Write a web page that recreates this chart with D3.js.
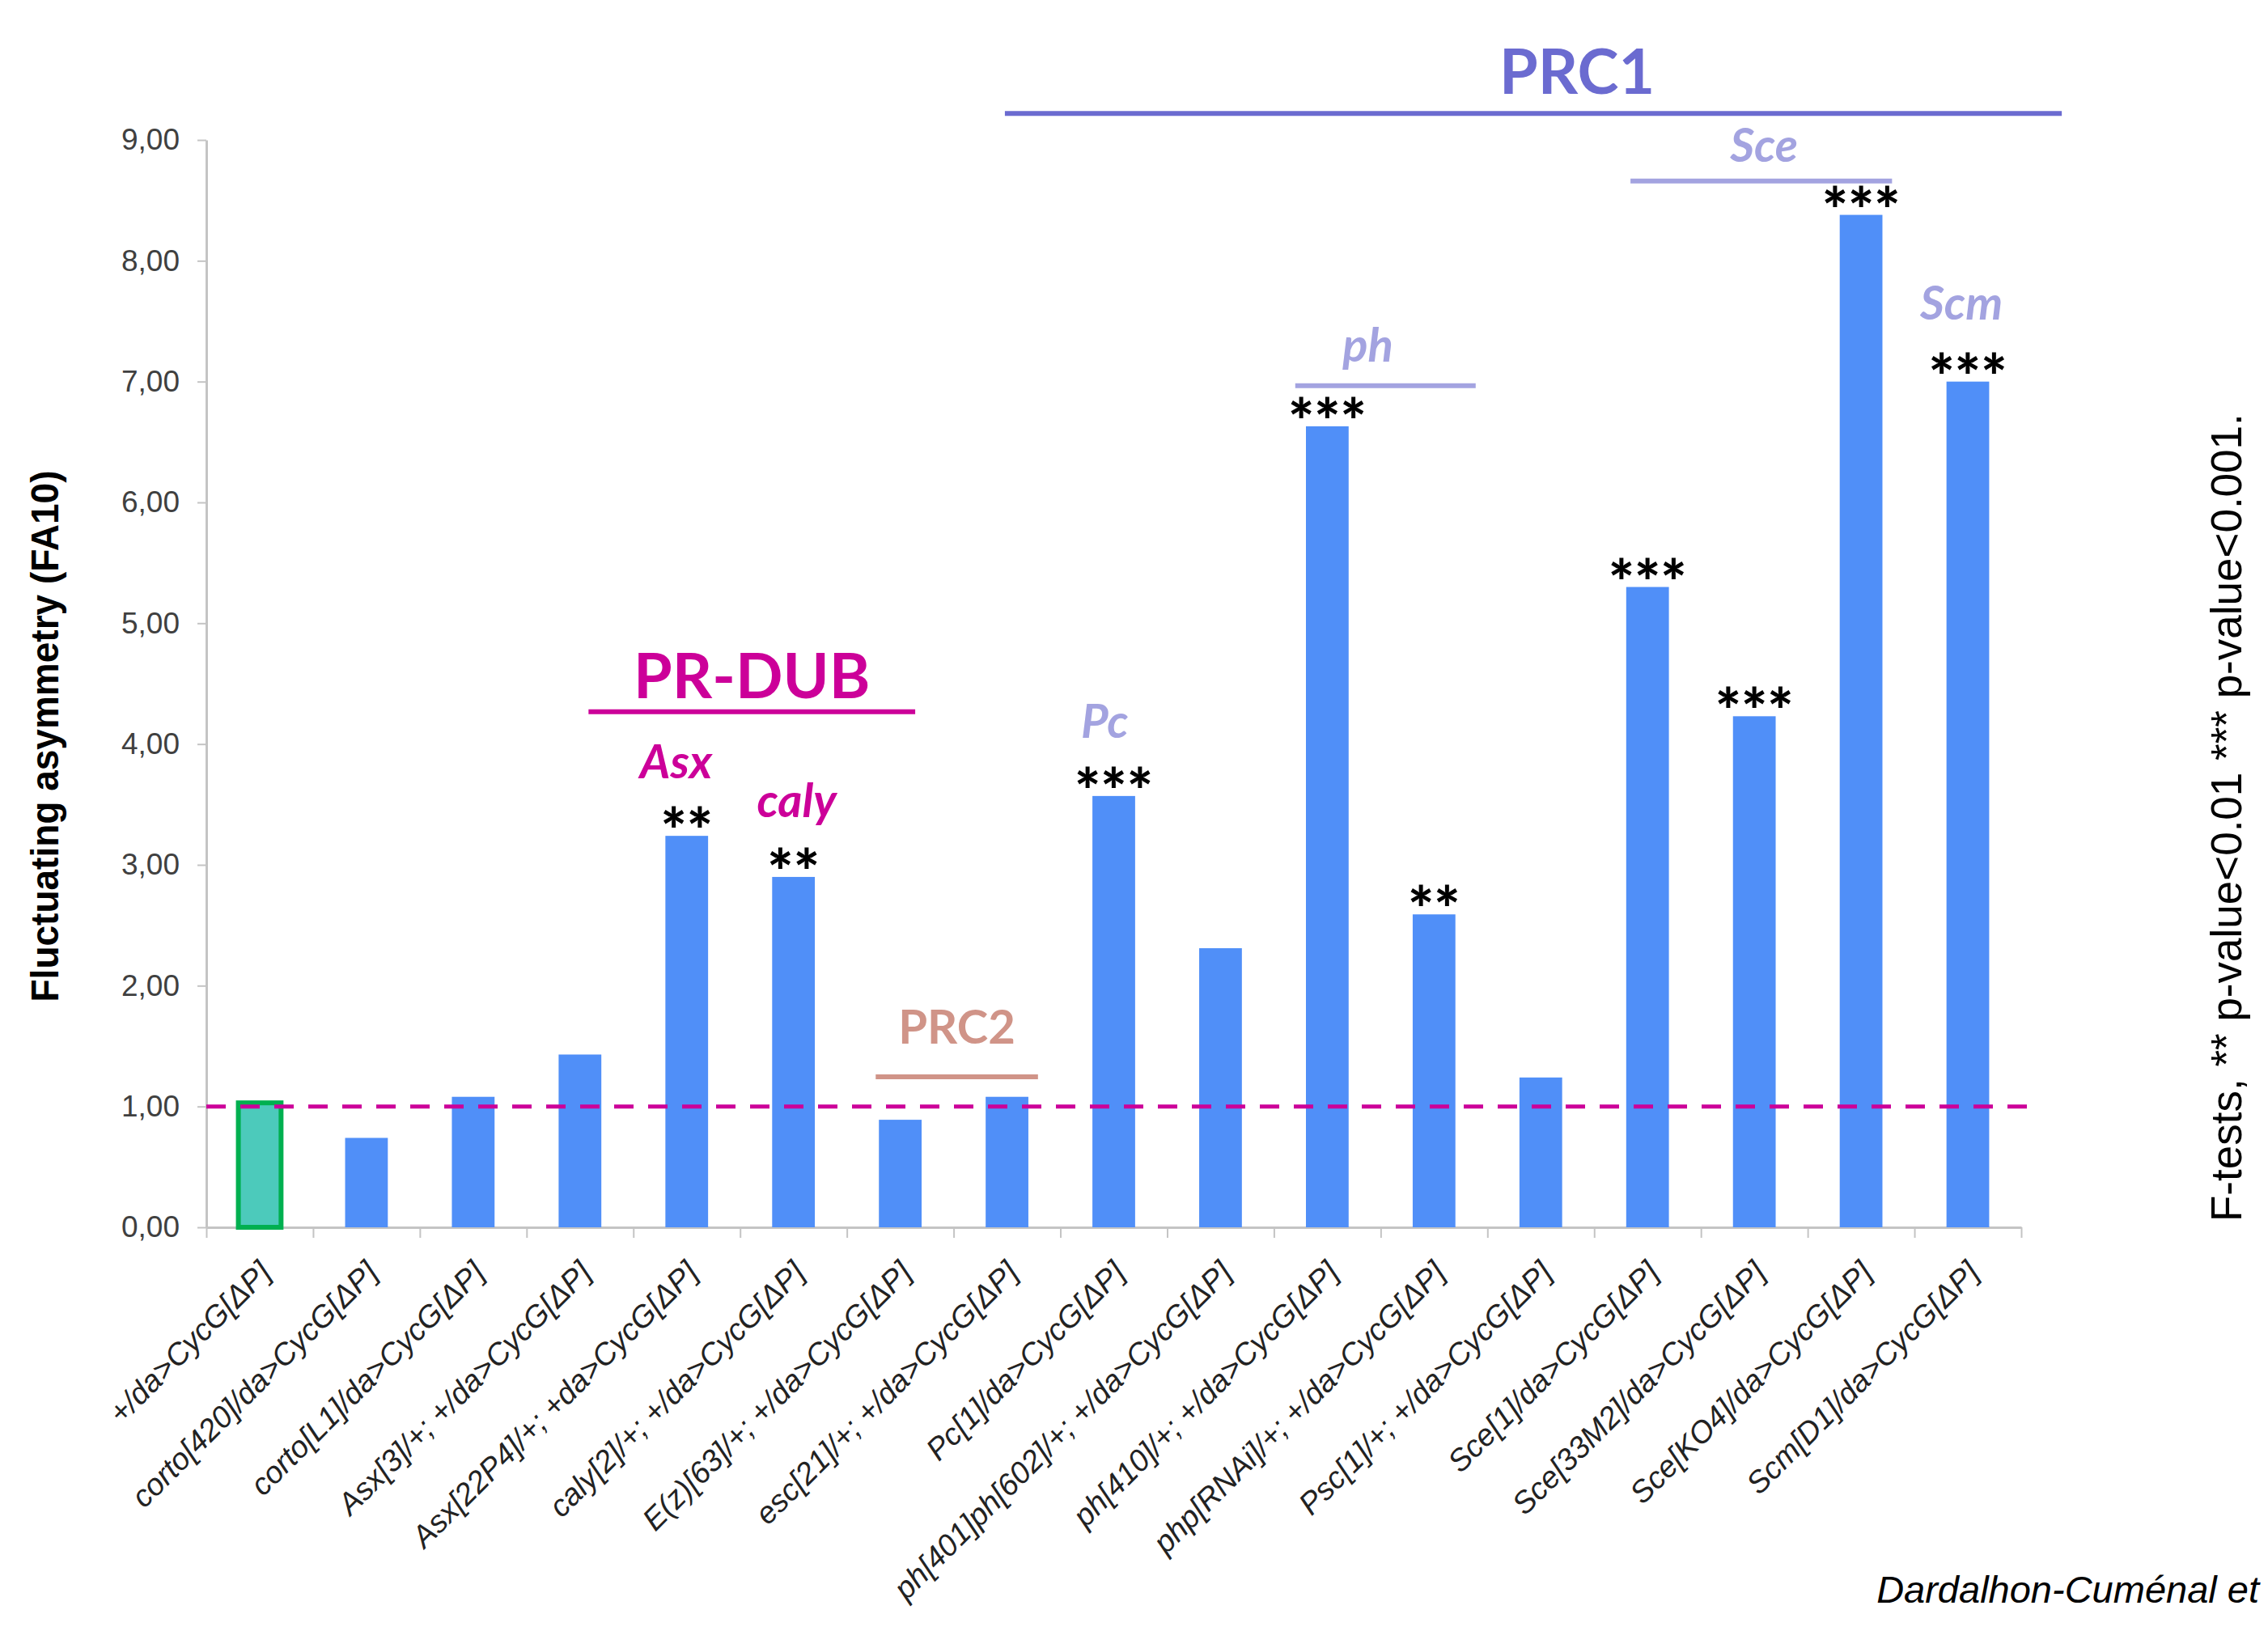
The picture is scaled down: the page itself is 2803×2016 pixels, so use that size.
<!DOCTYPE html>
<html><head><meta charset="utf-8">
<script src="https://cdn.jsdelivr.net/npm/d3@7"></script>
<style>body{margin:0;background:#fff}svg{display:block}</style>
</head><body>
<script>
// ---------- data ----------
const categories = [
  "+/da>CycG[ΔP]",
  "corto[420]/da>CycG[ΔP]",
  "corto[L1]/da>CycG[ΔP]",
  "Asx[3]/+; +/da>CycG[ΔP]",
  "Asx[22P4]/+; +da>CycG[ΔP]",
  "caly[2]/+; +/da>CycG[ΔP]",
  "E(z)[63]/+; +/da>CycG[ΔP]",
  "esc[21]/+; +/da>CycG[ΔP]",
  "Pc[1]/da>CycG[ΔP]",
  "ph[401]ph[602]/+; +/da>CycG[ΔP]",
  "ph[410]/+; +/da>CycG[ΔP]",
  "php[RNAi]/+; +/da>CycG[ΔP]",
  "Psc[1]/+; +/da>CycG[ΔP]",
  "Sce[1]/da>CycG[ΔP]",
  "Sce[33M2]/da>CycG[ΔP]",
  "Sce[KO4]/da>CycG[ΔP]",
  "Scm[D1]/da>CycG[ΔP]"
];
const values = [1.03, 0.74, 1.08, 1.43, 3.24, 2.90, 0.89, 1.08, 3.57, 2.31, 6.63, 2.59, 1.24, 5.30, 4.23, 8.38, 7.00];
const significance = ["", "", "", "", "**", "**", "", "", "***", "", "***", "**", "", "***", "***", "***", "***"];
const yTicks = [0, 1, 2, 3, 4, 5, 6, 7, 8, 9];
const referenceLevel = 1;
const yTitle = "Fluctuating asymmetry (FA10)";
const noteText = "F-tests, ** p-value<0.01 *** p-value<0.001.";
const creditText = "Dardalhon-Cuménal et";
// complex / gene annotation texts
const groupLabels = ["PRC1", "PR-DUB", "PRC2"];
const geneLabels = ["Sce", "Scm", "ph", "Pc", "Asx", "caly"];

// ---------- layout ----------
const W = 2803, H = 2016;
const X0 = 255, X1 = 2498, Y0 = 1517, Y9 = 173;

const svg = d3.select("body").append("svg").attr("width", W).attr("height", H);

const x = d3.scaleBand().domain(categories).range([X0, X1]).paddingInner(0.6).paddingOuter(0.3);
const xi = d3.scaleLinear().domain([0, categories.length]).range([X0, X1]); // category-index units
const y = d3.scaleLinear().domain([0, 9]).range([Y0, Y9]);

// y axis
const yAxis = svg.append("g").attr("transform", `translate(${X0},0)`)
  .call(d3.axisLeft(y).tickValues(yTicks).tickSize(11).tickSizeOuter(0).tickPadding(22)
    .tickFormat(d => d3.format(".2f")(d).replace(".", ",")));
yAxis.select(".domain").attr("stroke", "#c4c4c4").attr("stroke-width", 3);
yAxis.selectAll(".tick line").attr("stroke", "#c4c4c4").attr("stroke-width", 2);
yAxis.selectAll(".tick text").attr("font-family", "Liberation Sans, Arial, sans-serif")
  .attr("font-size", 37).attr("fill", "#404040");

// x axis
const xAxis = svg.append("g").attr("transform", `translate(0,${Y0})`)
  .call(d3.axisBottom(xi).tickValues(d3.range(categories.length + 1)).tickSize(13).tickSizeOuter(0).tickFormat(""));
xAxis.select(".domain").attr("stroke", "#c4c4c4").attr("stroke-width", 3);
xAxis.selectAll(".tick line").attr("stroke", "#c4c4c4").attr("stroke-width", 2);

// bars
svg.append("g").selectAll("rect").data(categories).join("rect")
  .attr("x", d => x(d))
  .attr("width", x.bandwidth())
  .attr("y", (d, i) => y(values[i]))
  .attr("height", (d, i) => Y0 - y(values[i]))
  .attr("fill", (d, i) => i === 0 ? "#4ccabb" : "#508ff8")
  .attr("stroke", (d, i) => i === 0 ? "#00b050" : "none")
  .attr("stroke-width", 6);

// reference dashed line
svg.append("line")
  .attr("x1", X0).attr("x2", 2522)
  .attr("y1", y(referenceLevel)).attr("y2", y(referenceLevel))
  .attr("stroke", "#cc0099").attr("stroke-width", 5).attr("stroke-dasharray", "24 18");

// x labels
svg.append("g").selectAll("text").data(categories).join("text")
  .attr("transform", d => `translate(${x(d) + x.bandwidth() / 2 + 16},${Y0 + 58}) rotate(-45)`)
  .attr("text-anchor", "end")
  .attr("font-family", "Liberation Sans, Arial, sans-serif")
  .attr("font-style", "italic")
  .attr("font-size", 38)
  .attr("fill", "#222")
  .text(d => d);

// significance stars
svg.append("g").selectAll("text").data(categories).join("text")
  .attr("x", d => x(d) + x.bandwidth() / 2)
  .attr("y", (d, i) => y(values[i]) + 22)
  .attr("text-anchor", "middle")
  .attr("font-family", "Lato, sans-serif")
  .attr("font-weight", 900)
  .attr("font-size", 76)
  .attr("fill", "#000")
  .text((d, i) => significance[i]);

// annotations (in category-index / value units)
const brackets = [
  {x1: 7.48, x2: 17.38, v: 9.22, color: "#6b6bd0"},
  {x1: 13.34, x2: 15.79, v: 8.66, color: "#a3a3e0"},
  {x1: 10.20, x2: 11.89, v: 6.966, color: "#a3a3e0"},
  {x1: 3.58, x2: 6.64, v: 4.267, color: "#cc0099"},
  {x1: 6.27, x2: 7.79, v: 1.246, color: "#d09488"}
];
svg.append("g").selectAll("line").data(brackets).join("line")
  .attr("x1", d => xi(d.x1)).attr("x2", d => xi(d.x2))
  .attr("y1", d => y(d.v)).attr("y2", d => y(d.v))
  .attr("stroke", d => d.color).attr("stroke-width", 6);

const groupPos = [
  {cx: 12.84, v: 9.38, size: 77, color: "#6b6bd0"},
  {cx: 5.11, v: 4.38, size: 77, color: "#cc0099"},
  {cx: 7.03, v: 1.52, size: 58, color: "#d09488"}
];
svg.append("g").selectAll("text").data(groupLabels).join("text")
  .attr("x", (d, i) => xi(groupPos[i].cx))
  .attr("y", (d, i) => y(groupPos[i].v))
  .attr("text-anchor", "middle")
  .attr("font-family", "Lato, sans-serif").attr("font-weight", 700)
  .attr("font-size", (d, i) => groupPos[i].size)
  .attr("fill", (d, i) => groupPos[i].color)
  .text(d => d);

const genePos = [
  {cx: 14.59, v: 8.82, color: "#a3a3e0"},
  {cx: 16.44, v: 7.515, color: "#a3a3e0"},
  {cx: 10.88, v: 7.167, color: "#a3a3e0"},
  {cx: 8.415, v: 4.052, color: "#a3a3e0"},
  {cx: 4.40, v: 3.717, color: "#cc0099"},
  {cx: 5.53, v: 3.396, color: "#cc0099"}
];
svg.append("g").selectAll("text").data(geneLabels).join("text")
  .attr("x", (d, i) => xi(genePos[i].cx))
  .attr("y", (d, i) => y(genePos[i].v))
  .attr("text-anchor", "middle")
  .attr("font-family", "Lato, sans-serif").attr("font-weight", 700).attr("font-style", "italic")
  .attr("font-size", 58)
  .attr("fill", (d, i) => genePos[i].color)
  .text(d => d);

// y title
svg.append("text")
  .attr("transform", `translate(72,${(581 + 1239) / 2}) rotate(-90)`)
  .attr("text-anchor", "middle")
  .attr("font-family", "Liberation Sans, Arial, sans-serif").attr("font-weight", 700)
  .attr("font-size", 48)
  .attr("textLength", 657).attr("lengthAdjust", "spacingAndGlyphs")
  .attr("fill", "#000")
  .text(yTitle);

// right note
svg.append("text")
  .attr("transform", `translate(2770,1510) rotate(-90)`)
  .attr("text-anchor", "start")
  .attr("font-family", "Liberation Sans, Arial, sans-serif")
  .attr("font-size", 53)
  .attr("fill", "#000")
  .text(noteText);

// credit
svg.append("text")
  .attr("x", 2792).attr("y", 1981)
  .attr("text-anchor", "end")
  .attr("font-family", "Liberation Sans, Arial, sans-serif")
  .attr("font-style", "italic")
  .attr("font-size", 47)
  .attr("fill", "#000")
  .text(creditText);
</script>
</body></html>
